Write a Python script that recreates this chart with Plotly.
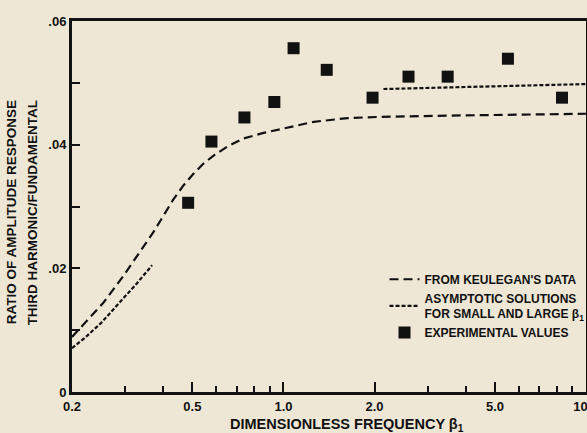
import plotly.graph_objects as go

# ---- data ----
keulegan_x = [0.2, 0.2535, 0.295, 0.336, 0.371, 0.401, 0.432, 0.467, 0.504, 0.543, 0.586,
              0.653, 0.738, 0.859, 1.0, 1.11, 1.26, 1.63, 2.1, 3.49, 5.78, 10.0]
keulegan_y = [0.0089, 0.0144, 0.0187, 0.0227, 0.0258, 0.0285, 0.0311, 0.0334, 0.0353, 0.0369,
              0.0382, 0.0397, 0.0410, 0.0419, 0.0426, 0.0431, 0.0437, 0.0443, 0.0445, 0.0447,
              0.0448, 0.0450]

small_x = [0.2, 0.221, 0.25, 0.288, 0.328, 0.368]
small_y = [0.0071, 0.0088, 0.0112, 0.0145, 0.0176, 0.0205]

large_x = [2.14, 4.49, 10.0]
large_y = [0.0490, 0.0494, 0.0498]

exp_x = [0.484, 0.578, 0.743, 0.933, 1.08, 1.39, 1.97, 2.59, 3.49, 5.52, 8.33]
exp_y = [0.0306, 0.0405, 0.0444, 0.0469, 0.0556, 0.0521, 0.0476, 0.0510, 0.0510, 0.0539, 0.0476]

x_major_vals = [0.2, 0.5, 1.0, 2.0, 5.0, 10.0]
x_major_text = ["0.2", "0.5", "1.0", "2.0", "5.0", "10&nbsp;&nbsp;&nbsp;"]
x_minor_vals = [0.3, 0.4, 0.6, 0.7, 0.8, 0.9, 3, 4, 6, 7, 8, 9]
y_major_vals = [0, 0.02, 0.04, 0.06]
y_major_text = ["0", ".02", ".04", ".06"]
y_minor_vals = [0.01, 0.03, 0.05]

BG = "#eee7d5"
INK = "#111"
FAM = "Arial, Liberation Sans, sans-serif"


def f(size):
    return dict(family=FAM, color=INK, size=size, weight="bold")


fig = go.Figure()
fig.add_trace(go.Scatter(x=keulegan_x, y=keulegan_y, mode="lines", name="FROM KEULEGAN'S DATA",
                         line=dict(color=INK, width=2.2, dash="9px,5px")))
fig.add_trace(go.Scatter(x=small_x, y=small_y, mode="lines",
                         name="ASYMPTOTIC SOLUTIONS<br>FOR SMALL AND LARGE β<sub>1</sub>",
                         line=dict(color=INK, width=2.2, dash="4px,2px"), legendgroup="asy"))
fig.add_trace(go.Scatter(x=large_x, y=large_y, mode="lines", showlegend=False,
                         line=dict(color=INK, width=2.2, dash="4px,2px"), legendgroup="asy"))
fig.add_trace(go.Scatter(x=exp_x, y=exp_y, mode="markers", name="EXPERIMENTAL VALUES",
                         marker=dict(symbol="square", size=12, color=INK)))

fig.update_layout(
    width=587, height=433,
    margin=dict(l=72, r=1, t=21, b=41, autoexpand=False),
    paper_bgcolor=BG, plot_bgcolor=BG,
    font=f(12),
    showlegend=True,
    legend=dict(x=0.608, y=0.343, xanchor="left", yanchor="top", bgcolor="rgba(0,0,0,0)",
                font=f(12), itemwidth=30, tracegroupgap=0),
    xaxis=dict(type="log", range=[-0.699, 1.0], showgrid=False, zeroline=False,
               showline=True, linecolor=INK, linewidth=3, mirror=True,
               tickvals=x_major_vals, ticktext=x_major_text, ticks="inside", ticklen=10,
               tickwidth=1.5, tickcolor=INK, ticklabeloverflow="allow",
               minor=dict(tickvals=x_minor_vals, ticks="inside", ticklen=6, tickwidth=1.5,
                          tickcolor=INK, showgrid=False),
               tickfont=f(13)),
    yaxis=dict(range=[0, 0.06], showgrid=False, zeroline=False,
               showline=True, linecolor=INK, linewidth=3, mirror=True,
               tickvals=y_major_vals, ticktext=y_major_text, ticks="inside", ticklen=8,
               tickwidth=1.5, tickcolor=INK, ticklabeloverflow="allow",
               minor=dict(tickvals=y_minor_vals, ticks="inside", ticklen=8, tickwidth=1.5,
                          tickcolor=INK, showgrid=False),
               tickfont=f(13)),
)

fig.add_annotation(text="DIMENSIONLESS FREQUENCY β<sub>1</sub>", xref="paper", yref="paper",
                   x=0.535, y=-0.09, xanchor="center", yanchor="middle", showarrow=False,
                   font=f(14.5))
fig.add_annotation(text="RATIO OF AMPLITUDE RESPONSE", xref="paper", yref="paper",
                   x=-0.117, y=0.484, xanchor="center", yanchor="middle", showarrow=False,
                   textangle=-90, font=f(13.5))
fig.add_annotation(text="THIRD HARMONIC/FUNDAMENTAL", xref="paper", yref="paper",
                   x=-0.076, y=0.484, xanchor="center", yanchor="middle", showarrow=False,
                   textangle=-90, font=f(13.5))

fig.write_html("out.html")
